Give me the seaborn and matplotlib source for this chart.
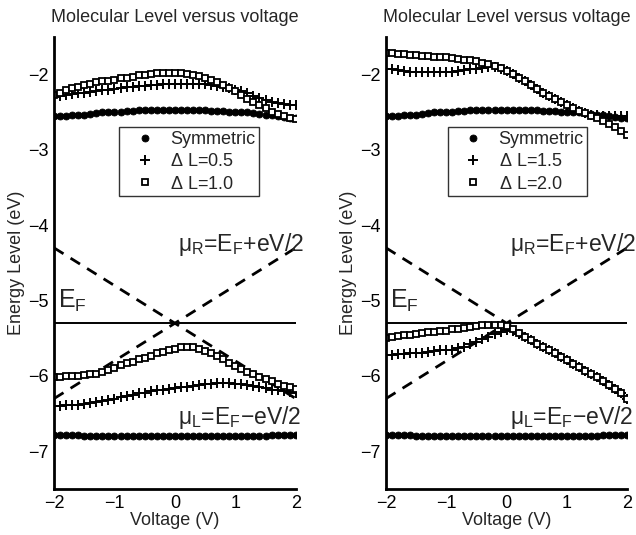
import numpy as np
import pandas as pd
import matplotlib
matplotlib.use("Agg")
import matplotlib.pyplot as plt
import seaborn as sns

sns.set_style("white")
plt.rcParams['font.family'] = ['Liberation Sans', 'DejaVu Sans']
plt.rcParams['mathtext.fontset'] = 'custom'
plt.rcParams['mathtext.rm'] = 'Liberation Sans'
plt.rcParams['mathtext.it'] = 'Liberation Sans'

voltage = [round(-2.0 + 0.1 * i, 1) for i in range(41)]

sym_upper = [-2.55, -2.55, -2.55, -2.54, -2.54, -2.53, -2.52, -2.51, -2.50, -2.50, -2.49,
             -2.49, -2.48, -2.48, -2.47, -2.47, -2.47, -2.47, -2.47, -2.47, -2.47,
             -2.47, -2.47, -2.47, -2.47, -2.47, -2.48, -2.48, -2.48, -2.49, -2.49,
             -2.50, -2.50, -2.51, -2.52, -2.53, -2.54, -2.55, -2.56, -2.57, -2.58]
sym_lower = [-6.79, -6.79, -6.79, -6.79, -6.79, -6.80, -6.80, -6.80, -6.80, -6.80, -6.80,
             -6.80, -6.80, -6.80, -6.80, -6.80, -6.80, -6.80, -6.80, -6.80, -6.80,
             -6.80, -6.80, -6.80, -6.80, -6.80, -6.80, -6.80, -6.80, -6.80, -6.80,
             -6.80, -6.80, -6.80, -6.80, -6.80, -6.79, -6.79, -6.79, -6.78, -6.78]

# left panel
dl05_upper = [-2.30, -2.28, -2.27, -2.26, -2.25, -2.24, -2.23, -2.22, -2.21, -2.20, -2.19,
              -2.18, -2.17, -2.16, -2.15, -2.15, -2.14, -2.14, -2.13, -2.13, -2.13,
              -2.13, -2.13, -2.13, -2.13, -2.13, -2.14, -2.15, -2.16, -2.18, -2.20,
              -2.22, -2.25, -2.28, -2.31, -2.34, -2.36, -2.38, -2.39, -2.40, -2.41]
dl10_upper = [-2.27, -2.24, -2.21, -2.18, -2.16, -2.14, -2.12, -2.10, -2.09, -2.08, -2.07,
              -2.05, -2.04, -2.03, -2.01, -2.00, -1.99, -1.98, -1.98, -1.98, -1.98,
              -1.98, -1.99, -2.00, -2.02, -2.04, -2.07, -2.10, -2.14, -2.18, -2.22,
              -2.27, -2.32, -2.37, -2.41, -2.45, -2.49, -2.52, -2.55, -2.57, -2.59]
dl05_lower = [-6.40, -6.40, -6.39, -6.39, -6.38, -6.37, -6.36, -6.34, -6.33, -6.32, -6.30,
              -6.28, -6.27, -6.25, -6.23, -6.22, -6.20, -6.19, -6.18, -6.17, -6.16,
              -6.15, -6.14, -6.13, -6.12, -6.11, -6.10, -6.09, -6.09, -6.09, -6.10,
              -6.11, -6.12, -6.13, -6.15, -6.16, -6.18, -6.19, -6.20, -6.21, -6.22]
dl10_lower = [-6.01, -6.01, -6.00, -6.00, -6.00, -5.99, -5.98, -5.97, -5.95, -5.92, -5.89,
              -5.86, -5.83, -5.81, -5.78, -5.76, -5.73, -5.70, -5.68, -5.66, -5.64,
              -5.62, -5.62, -5.62, -5.64, -5.67, -5.70, -5.74, -5.78, -5.83, -5.87,
              -5.91, -5.95, -5.98, -6.01, -6.04, -6.07, -6.10, -6.13, -6.15, -6.17]

# right panel
dl15_upper = [-1.92, -1.93, -1.94, -1.95, -1.96, -1.96, -1.97, -1.97, -1.97, -1.97, -1.97,
              -1.96, -1.95, -1.94, -1.93, -1.92, -1.91, -1.90, -1.90, -1.92, -1.95,
              -1.99, -2.04, -2.09, -2.14, -2.19, -2.24, -2.28, -2.32, -2.36, -2.40,
              -2.44, -2.48, -2.51, -2.53, -2.54, -2.55, -2.55, -2.55, -2.55, -2.55]
dl20_upper = [-1.72, -1.72, -1.73, -1.73, -1.74, -1.74, -1.75, -1.75, -1.76, -1.76, -1.77,
              -1.78, -1.79, -1.80, -1.81, -1.82, -1.84, -1.86, -1.88, -1.91, -1.95,
              -1.99, -2.04, -2.09, -2.14, -2.19, -2.24, -2.28, -2.32, -2.36, -2.40,
              -2.44, -2.48, -2.51, -2.55, -2.58, -2.62, -2.66, -2.70, -2.75, -2.80]
dl15_lower = [-5.72, -5.72, -5.71, -5.71, -5.70, -5.70, -5.69, -5.68, -5.67, -5.66, -5.66,
              -5.65, -5.63, -5.61, -5.58, -5.55, -5.51, -5.48, -5.44, -5.41, -5.39,
              -5.40, -5.44, -5.48, -5.52, -5.57, -5.61, -5.66, -5.70, -5.75, -5.79,
              -5.84, -5.88, -5.93, -5.97, -6.02, -6.07, -6.12, -6.17, -6.23, -6.30]
dl20_lower = [-5.49, -5.48, -5.47, -5.46, -5.45, -5.44, -5.43, -5.42, -5.41, -5.40, -5.40,
              -5.38, -5.37, -5.36, -5.35, -5.34, -5.33, -5.33, -5.33, -5.33, -5.34,
              -5.38, -5.43, -5.48, -5.52, -5.57, -5.61, -5.66, -5.70, -5.75, -5.79,
              -5.84, -5.88, -5.93, -5.97, -6.02, -6.07, -6.12, -6.17, -6.23, -6.30]

# chemical potentials and Fermi level
bias_ends = [-2.0, 2.0]
mu_R_ends = [-6.3, -4.3]
mu_L_ends = [-4.3, -6.3]
E_F = -5.3

panels = [
    ("Symmetric", r"$\Delta$ L=0.5", r"$\Delta$ L=1.0", dl05_upper, dl05_lower, dl10_upper, dl10_lower),
    ("Symmetric", r"$\Delta$ L=1.5", r"$\Delta$ L=2.0", dl15_upper, dl15_lower, dl20_upper, dl20_lower),
]

fig = plt.figure(figsize=(6.36, 5.35), dpi=100)
ax_l = fig.add_axes([0.085, 0.086, 0.380, 0.845])
ax_r = fig.add_axes([0.607, 0.086, 0.379, 0.845])

FS = 13

for ax, (lab0, lab1, lab2, p_up, p_lo, s_up, s_lo) in zip([ax_l, ax_r], panels):
    # Fermi level and chemical potentials
    sns.lineplot(x=bias_ends, y=[E_F, E_F], ax=ax, color='k', lw=1.4)
    sns.lineplot(x=bias_ends, y=mu_R_ends, ax=ax, color='k', lw=2.0, linestyle=(0, (4, 3)))
    sns.lineplot(x=bias_ends, y=mu_L_ends, ax=ax, color='k', lw=2.0, linestyle=(0, (4, 3)))

    kw_sym = dict(marker='o', linestyle='', color='k', markersize=5, markeredgewidth=0.6,
                  markerfacecolor='k', markeredgecolor='k')
    kw_plus = dict(marker='+', linestyle='', color='k', markersize=7.5, markeredgewidth=1.4,
                   markeredgecolor='k')
    kw_sq = dict(marker='s', linestyle='', color='k', markersize=5, markerfacecolor='white',
                 markeredgecolor='k', markeredgewidth=1.3)

    sns.lineplot(x=voltage, y=sym_upper, ax=ax, label=lab0, **kw_sym)
    sns.lineplot(x=voltage, y=sym_lower, ax=ax, **kw_sym)
    sns.lineplot(x=voltage, y=p_up, ax=ax, label=lab1, **kw_plus)
    sns.lineplot(x=voltage, y=p_lo, ax=ax, **kw_plus)
    sns.lineplot(x=voltage, y=s_up, ax=ax, label=lab2, **kw_sq)
    sns.lineplot(x=voltage, y=s_lo, ax=ax, **kw_sq)

    ax.set_xlim(-2, 2)
    ax.set_ylim(-7.5, -1.5)
    ax.set_xticks([-2, -1, 0, 1, 2])
    ax.set_yticks([-7, -6, -5, -4, -3, -2])
    ax.set_xticklabels(["\u22122", "\u22121", "0", "1", "2"])
    ax.set_yticklabels(["\u22127", "\u22126", "\u22125", "\u22124", "\u22123", "\u22122"])
    ax.tick_params(direction='in', length=4, width=1.8, labelsize=FS, pad=4, colors='k')
    for s in ['top', 'right']:
        ax.spines[s].set_visible(False)
    for s in ['left', 'bottom']:
        ax.spines[s].set_linewidth(2.0)
        ax.spines[s].set_color('k')
    ax.set_xlabel("Voltage (V)", fontsize=FS, labelpad=0)
    ax.set_ylabel("Energy Level (eV)", fontsize=FS, labelpad=2)
    ax.set_title("Molecular Level versus voltage", fontsize=FS, pad=11)

    ax.text(-1.93, -5.0, r"E$_\mathrm{F}$", fontsize=18, ha='left', va='center')
    ax.text(0.05, -4.25, r"$\mu_\mathrm{R}$=E$_\mathrm{F}$+eV/2", fontsize=16.5, ha='left', va='center', clip_on=False)
    ax.text(0.05, -6.55, r"$\mu_\mathrm{L}$=E$_\mathrm{F}$" + "\u2212eV/2", fontsize=16.5, ha='left', va='center', clip_on=False)

    leg = ax.legend(loc='upper left', bbox_to_anchor=(0.27, 0.80), fontsize=FS, frameon=True,
                    fancybox=False, edgecolor='k', numpoints=1, handlelength=2.4,
                    borderpad=0.2, labelspacing=0.3, handletextpad=0.2, borderaxespad=0)
    leg.get_frame().set_linewidth(1.0)

ax_r.get_legend().set_bbox_to_anchor((0.257, 0.80))

fig.savefig("out.png", dpi=100)
